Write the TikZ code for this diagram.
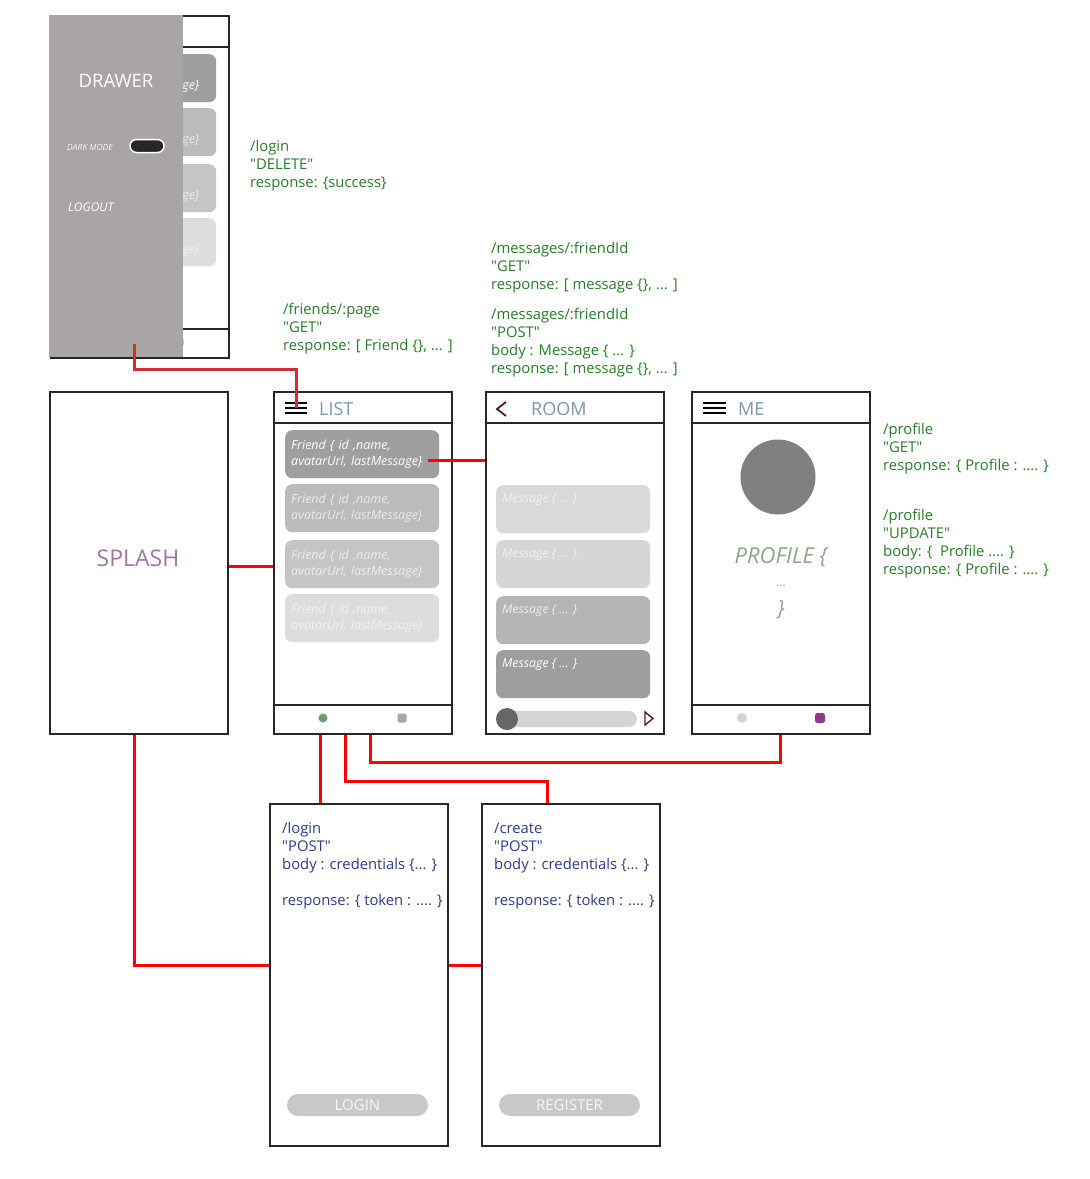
\documentclass[tikz,border=0pt]{standalone}
\usepackage{fontspec}
\setmainfont{Open Sans}
\usetikzlibrary{positioning, calc}

\definecolor{apigreen}{RGB}{38,125,38}
\definecolor{apiblue}{RGB}{48,58,140}
\definecolor{titleblue}{RGB}{122,152,168}
\definecolor{splashpurple}{RGB}{160,118,160}
\definecolor{profilegreen}{RGB}{140,165,140}
\definecolor{drawergray}{RGB}{169,165,165}
\definecolor{framegray}{RGB}{38,38,38}
\definecolor{iconbrown}{RGB}{75,30,30}
\definecolor{linkred}{RGB}{255,0,0}
\definecolor{drawerred}{RGB}{208,46,52}
\definecolor{dotgreen}{RGB}{108,155,108}
\definecolor{dotgray}{RGB}{168,164,168}
\definecolor{dotlight}{RGB}{212,212,212}
\definecolor{dotpurple}{RGB}{140,58,140}
\definecolor{card1}{RGB}{159,159,159}
\definecolor{card2}{RGB}{187,187,187}
\definecolor{card3}{RGB}{197,197,197}
\definecolor{card4}{RGB}{221,221,221}
\definecolor{cardtxt2}{RGB}{236,236,236}
\definecolor{cardtxt3}{RGB}{238,238,238}
\definecolor{cardtxt4}{RGB}{242,242,242}
\definecolor{msg1}{RGB}{217,217,217}
\definecolor{msg2}{RGB}{214,214,214}
\definecolor{msg3}{RGB}{181,181,181}
\definecolor{msg4}{RGB}{158,158,158}
\definecolor{buttongray}{RGB}{200,200,200}

% comillas rectas
\newcommand{\qt}[1]{\textquotedbl#1\textquotedbl}

% pantalla LIST (origen = esquina superior izquierda)
\newcommand{\listscreen}{%
  \node[screen] (list) at (0,0) {};
  \draw[bar] (0,32) -- (178,32);
  \draw[bar] (0,314) -- (178,314);
  \draw[menuline] (12,12) -- (34,12) (12,17) -- (34,17) (12,22) -- (34,22);
  \coordinate (list-menu) at (23,17);
  \node[title] (list-title) at (46,18) {LIST};
  \foreach \i/\y/\f/\t in {1/39/card1/white, 2/93/card2/cardtxt2, 3/149/card3/cardtxt3, 4/203/card4/cardtxt4}
    \node[friend, fill=\f, text=\t] (friend\i) at (12,\y) {Friend \{ id ,name,\\avatarUrl, lastMessage\}};
  \node[circle, fill=dotgreen, minimum size=9pt, inner sep=0] (list-dot1) at (50,327) {};
  \node[rectangle, rounded corners=2pt, fill=dotgray, minimum size=9pt, inner sep=0] (list-dot2) at (129,327) {};
}

\begin{document}
\begin{tikzpicture}[
    x=1pt, y=-1pt,
    screen/.style={rectangle, draw=framegray, line width=1.8pt, fill=white, minimum width=178pt, minimum height=342pt, anchor=north west, inner sep=0},
    bar/.style={draw=framegray, line width=1.8pt},
    menuline/.style={draw=black, line width=1.6pt},
    title/.style={anchor=west, inner sep=0, text=titleblue, font=\fontsize{18}{20}\selectfont},
    friend/.style={rectangle, rounded corners=7pt, anchor=north west, minimum width=154pt, minimum height=48pt, text width=142pt, inner xsep=6pt, inner ysep=0, align=left, font=\itshape\fontsize{12.5}{16}\selectfont},
    message/.style={rectangle, rounded corners=7pt, anchor=north west, minimum width=154pt, minimum height=48pt, inner sep=0},
    msgtext/.style={anchor=west, inner sep=0, font=\itshape\fontsize{12.3}{14}\selectfont},
    api/.style={anchor=base west, inner sep=0, align=left, text=apigreen, font=\fontsize{14.8}{18}\selectfont},
    cred/.style={anchor=base west, inner sep=0, align=left, text=apiblue, font=\fontsize{14.8}{18}\selectfont},
    button/.style={rectangle, rounded corners=11pt, fill=buttongray, minimum width=141pt, minimum height=22pt, inner sep=0, text=white!94!gray, font=\fontsize{15}{16}\selectfont},
    link/.style={draw=linkred, line width=3pt}
  ]
  \useasboundingbox (0,0) rectangle (1090,1179);

  % Lista detras del drawer
  \begin{scope}[shift={(50,15)}, name prefix=bg-]
    \listscreen
  \end{scope}

  % Drawer
  \node[rectangle, fill=drawergray, minimum width=134pt, minimum height=342pt, anchor=north west, inner sep=0] (drawer) at (49,15) {};
  \node[text=white, font=\fontsize{18.5}{20}\selectfont] (drawer-title) at (116,81) {DRAWER};
  \node[text=white!92!gray, font=\itshape\fontsize{8.5}{10}\selectfont] (darkmode) at (90,147) {DARK MODE};
  \node[rectangle, rounded corners=6.5pt, fill=framegray, draw=white, line width=1.5pt, minimum width=34pt, minimum height=13pt, inner sep=0] (darkmode-toggle) at (147,146) {};
  \node[anchor=west, inner sep=0, text=white, font=\itshape\fontsize{12}{14}\selectfont] (logout) at (68,207) {LOGOUT};
  \coordinate (drawer-out) at (134,344);

  % Endpoints (base = ultima linea)
  \node[api] (api-logout) at (250,187) {/login\\\qt{DELETE}\\response: \{success\}};
  \node[api] (api-friends) at (283,350) {/friends/:page\\\qt{GET}\\response: [ Friend \{\}, ... ]};
  \node[api] (api-msg-get) at (491,289) {/messages/:friendId\\\qt{GET}\\response: [ message \{\}, ... ]};
  \node[api] (api-msg-post) at (491,373) {/messages/:friendId\\\qt{POST}\\body : Message \{ ... \}\\response: [ message \{\}, ... ]};
  \node[api] (api-profile-get) at (883,470) {/profile\\\qt{GET}\\response: \{ Profile : .... \}};
  \node[api] (api-profile-upd) at (883,574) {/profile\\\qt{UPDATE}\\body: \{~~Profile .... \}\\response: \{ Profile : .... \}};

  % Pantallas
  \node[screen] (splash) at (49,391) {};
  \node[text=splashpurple, font=\fontsize{23}{26}\selectfont] (splash-title) at (138,558) {SPLASH};

  \begin{scope}[shift={(273,391)}]
    \listscreen
  \end{scope}

  \node[screen] (room) at (485,391) {};
  \draw[bar] (485,423) -- (663,423);
  \draw[draw=iconbrown, line width=1.8pt] (506,402) -- (497,409) -- (506,416);
  \node[title] (room-title) at (531,409) {ROOM};
  \foreach \i/\y/\f/\t in {1/485/msg1/cardtxt4, 2/540/msg2/cardtxt4, 3/596/msg3/cardtxt3, 4/650/msg4/white} {
    \node[message, fill=\f] (msg\i) at (496,\y) {};
    \node[msgtext, text=\t] (msg\i-text) at ([xshift=6pt, yshift=-15pt]msg\i.north west) {Message \{ ... \}};
  }
  \node[rectangle, rounded corners=8pt, fill=dotlight, minimum width=141pt, minimum height=16pt, inner sep=0] (room-input) at (566.5,719) {};
  \node[circle, fill=black!60, minimum size=22pt, inner sep=0] (room-knob) at (507,719) {};
  \draw[draw=iconbrown, line width=1.4pt] (645,712) -- (653,718.5) -- (645,725) -- cycle;

  \node[screen] (me) at (691,391) {};
  \draw[bar] (691,423) -- (869,423);
  \draw[bar] (691,705) -- (869,705);
  \draw[menuline] (703,403) -- (726,403) (703,408) -- (726,408) (703,413) -- (726,413);
  \node[title] (me-title) at (738,409) {ME};
  \node[circle, fill=black!50, minimum size=75pt, inner sep=0] (avatar) at (778,477) {};
  \node[text=profilegreen, font=\itshape\fontsize{22}{24}\selectfont] (profile) at (781,557) {PROFILE \{};
  \node[text=profilegreen, font=\fontsize{12}{14}\selectfont] (profile-dots) at (781,586) {...};
  \node[text=profilegreen, font=\itshape\fontsize{21}{22}\selectfont] (profile-end) at (781,610) {\}};
  \node[circle, fill=dotlight, minimum size=10pt, inner sep=0] (me-dot1) at (742,718) {};
  \node[rectangle, rounded corners=2.5pt, fill=dotpurple, minimum size=10pt, inner sep=0] (me-dot2) at (820,718) {};

  \node[screen] (login) at (269,803) {};
  \node[cred] (login-api) at (282,905) {/login\\\qt{POST}\\body : credentials \{... \}\\[18pt]response: \{ token : .... \}};
  \node[button] (login-btn) at (357.5,1105) {LOGIN};

  \node[screen] (register) at (481,803) {};
  \node[cred] (register-api) at (494,905) {/create\\\qt{POST}\\body : credentials \{... \}\\[18pt]response: \{ token : .... \}};
  \node[button] (register-btn) at (569.5,1105) {REGISTER};

  % Conexiones
  \draw[link, draw=drawerred] (drawer-out) -- ++(0,25) -| (list-menu);
  \draw[link] ([yshift=-4pt]splash.east) -- ([yshift=-4pt]list.west);
  \draw[link] ([xshift=-11pt, yshift=-6pt]friend1.east) -- ([yshift=-6pt]friend1.east -| room.west);
  \draw[link] ([xshift=-4pt]splash.south) |- ([yshift=9pt]login.west);
  \draw[link] ([yshift=9pt]login.east) -- ([yshift=9pt]register.west);
  \draw[link] ([xshift=-42pt]list.south) -- ([xshift=-38pt]login.north);
  \draw[link] ([xshift=-17pt]list.south) -- ++(0,47) -| ([xshift=-23pt]register.north);
  \draw[link] ([xshift=8pt]list.south) -- ++(0,28) -| (me.south);

\end{tikzpicture}
\end{document}
